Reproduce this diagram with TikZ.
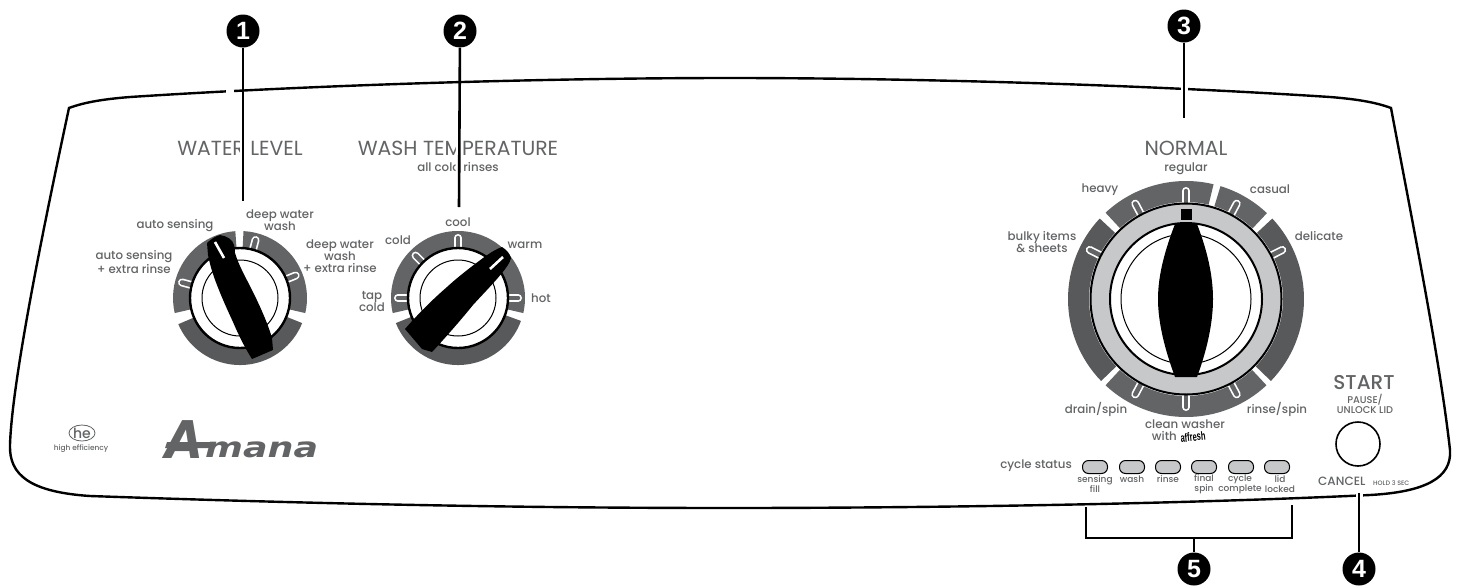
\documentclass[tikz,border=0pt]{standalone}
\usepackage{fontspec}
\setmainfont{Poppins}
\newfontfamily\medfont{Poppins Medium}
\newfontfamily\numfont{Liberation Sans}
\newfontfamily\logofont{DejaVu Sans}
\newfontfamily\narrowfont{Liberation Sans}
\definecolor{bandA}{HTML}{636466}
\definecolor{bandB}{HTML}{58595B}
\definecolor{ringg}{HTML}{C7C8CA}
\definecolor{txt}{HTML}{636466}
\newcommand{\fsz}[2]{\fontsize{#1}{#2}\selectfont}
\tikzset{
  x=1pt,y=-1pt,
  numcirc/.style={circle,fill=black,text=white,minimum size=33pt,inner sep=0pt,font=\numfont\bfseries\fsz{25}{25}},
  leaderline/.style={line width=2.6pt},
  leaderhalo/.style={line width=7pt,white},
  title/.style={text=txt,inner sep=0pt,align=center,font=\fsz{20.4}{20.4}},
  lab/.style={text=txt,inner sep=0pt,align=center,font=\medfont\fsz{11.8}{12}},
  sm/.style={text=txt,inner sep=0pt,align=center,font=\medfont\fsz{9}{10}},
  lamp/.style={draw=black,line width=1pt,fill=ringg,rounded corners=6pt,minimum width=25pt,minimum height=13pt,inner sep=0pt},
  bandtick/.style={line cap=round,line width=8pt,draw=white},
  bandtickin/.style={line cap=round,line width=4.6pt,draw=bandA},
}
% \segm{center x}{center y}{r inner}{r outer}{a1}{a2}{colour}
\newcommand{\segm}[7]{\fill[#7] ({#1+#4*cos(#5)},{#2-#4*sin(#5)}) arc[start angle=-#5,end angle=-#6,radius=#4] -- ({#1+#3*cos(#6)},{#2-#3*sin(#6)}) arc[start angle=-#6,end angle=-#5,radius=#3] -- cycle;}
% \tickm{cx}{cy}{r1}{r2}{angle}
\newcommand{\tickm}[5]{\draw[bandtick] ({#1+#3*cos(#5)},{#2-#3*sin(#5)}) -- ({#1+#4*cos(#5)},{#2-#4*sin(#5)});\draw[bandtickin] ({#1+#3*cos(#5)},{#2-#3*sin(#5)}) -- ({#1+#4*cos(#5)},{#2-#4*sin(#5)});}
\begin{document}
\begin{tikzpicture}
\useasboundingbox (0,0) rectangle (1460,587);
\fill[white] (0,0) rectangle (1460,587);
% titles
\node[title] (twl) at (240,148) {WATER LEVEL};
\node[title] (twt) at (458,148) {WASH TEMPERATURE};
\node[lab] (tacr) at (458,167) {all cold rinses};
\node[title] (tnm) at (1186,148) {NORMAL};
% number circles and first leaders
\node[numcirc] (n1) at (243,31) {1};
\node[numcirc] (n2) at (460,31) {2};
\node[numcirc] (n3) at (1184,26) {3};
\node[numcirc] (n4) at (1359,569) {4};
\node[numcirc] (n5) at (1194,569) {5};
\coordinate (e1) at (243,201);
\coordinate (e2) at (459,207);
\coordinate (e3) at (1184,118);
\coordinate (e4) at (1359,493);
\draw[leaderhalo] (n1) -- (e1);
\draw[leaderhalo] (n2) -- (e2);
% panel
\draw[line width=2.4pt,line join=miter] (69,108) .. controls (85,102) and (105,99) .. (130,97)
  .. controls (330,84) and (560,78) .. (730,78)
  .. controls (900,78) and (1130,84) .. (1330,97)
  .. controls (1355,99) and (1375,102) .. (1391,108)
  .. controls (1412,220) and (1440,360) .. (1450,450)
  .. controls (1452,478) and (1425,492) .. (1370,495)
  .. controls (1160,505) and (900,508) .. (730,508)
  .. controls (520,508) and (320,504) .. (90,496)
  .. controls (30,492) and (9,475) .. (10,445)
  .. controls (12,380) and (45,220) .. (69,108) -- cycle;
\fill[white] (226,87) rectangle (234,95);
\draw[leaderhalo] (n3) -- (e3);
\draw[leaderhalo] (n4) -- (e4);
% dial 1
\segm{240}{298}{50}{67}{94}{193}{bandA}
\segm{240}{298}{50}{67}{-13}{87}{bandA}
\segm{240}{298}{50}{67}{-22}{-157}{bandB}
\tickm{240}{298}{50}{60}{165}
\tickm{240}{298}{50}{60}{75}
\tickm{240}{298}{50}{60}{22}
\draw[line width=2.4pt,fill=white] (240,298) circle[radius=50];
\draw[line width=1pt] (240,298) circle[radius=38];
\fill (207,243) .. controls (211,239) and (216,236) .. (220,235) .. controls (227,236) and (233,240) .. (234,245)
  .. controls (235,248) and (235,251) .. (235,253) .. controls (239,266) and (246,278) .. (252,290)
  .. controls (260,306) and (268,324) .. (272,338) -- (273,350) -- (252,359)
  .. controls (245,348) and (239,336) .. (233,322) .. controls (227,309) and (222,298) .. (217,285)
  .. controls (213,275) and (210,265) .. (208,255) -- cycle;
\draw[white,line width=2.6pt] (215,242) -- (224,258);
% dial 2
\segm{458}{298}{50}{67}{-13}{193}{bandA}
\segm{458}{298}{50}{67}{-20}{-158}{bandB}
\tickm{458}{298}{50}{60}{180}
\tickm{458}{298}{50}{60}{135}
\tickm{458}{298}{50}{60}{90}
\tickm{458}{298}{50}{60}{0}
\draw[line width=2.4pt,fill=white] (458,298) circle[radius=50];
\draw[line width=1pt] (458,298) circle[radius=38];
\fill (502,247) .. controls (507,250) and (510,254) .. (511,258) .. controls (510,263) and (506,268) .. (502,273)
  .. controls (493,284) and (483,294) .. (473,305) .. controls (460,321) and (446,337) .. (432,352)
  -- (422,349) -- (405,329) .. controls (418,314) and (432,300) .. (447,287)
  .. controls (459,276) and (471,267) .. (483,258) .. controls (490,253) and (496,249) .. (502,247) -- cycle;
\draw[white,line width=2.6pt] (490,269) -- (503,257);
% dial 3
\segm{1186}{299}{97}{118}{76.5}{133}{bandA}
\segm{1186}{299}{97}{118}{46.7}{73}{bandA}
\segm{1186}{299}{97}{118}{-44}{43}{bandB}
\segm{1186}{299}{97}{118}{-133}{-47}{bandA}
\segm{1186}{299}{97}{118}{137}{224}{bandB}
\tickm{1186}{299}{95}{108}{90}
\tickm{1186}{299}{95}{108}{118}
\tickm{1186}{299}{95}{108}{62}
\tickm{1186}{299}{95}{108}{27}
\tickm{1186}{299}{95}{108}{153}
\tickm{1186}{299}{95}{108}{-90}
\tickm{1186}{299}{95}{108}{-62}
\tickm{1186}{299}{95}{108}{-118}
\draw[line width=2pt,fill=ringg] (1186,299) circle[radius=95.5];
\draw[line width=2pt,fill=white] (1186,299) circle[radius=76];
\draw[line width=1pt] (1186,299) circle[radius=65];
\fill (1175,224) -- (1197,224) .. controls (1207,250) and (1213,275) .. (1213,299)
  .. controls (1213,323) and (1207,350) .. (1197,377) -- (1175,377)
  .. controls (1165,350) and (1158,323) .. (1158,299) .. controls (1158,275) and (1165,250) .. (1175,224) -- cycle;
\fill (1181,209) rectangle (1192,220);
% dial 1 labels
\node[lab] (a1) at (175,226) {auto sensing};
\node[lab] (a2) at (280,220) {deep water\\wash};
\node[lab] (a3) at (340,256) {deep water\\wash\\+ extra rinse};
\node[lab] (a4) at (134,262) {auto sensing\\+ extra rinse};
% dial 2 labels
\node[lab] (b1) at (458,222) {cool};
\node[lab] (b2) at (398,240) {cold};
\node[lab] (b3) at (525,245) {warm};
\node[lab] (b4) at (541,298) {hot};
\node[lab] (b5) at (372,301) {tap\\cold};
% dial 3 labels
\node[lab] (c1) at (1186,169) {regular};
\node[lab] (c2) at (1100,190) {heavy};
\node[lab] (c3) at (1270,189) {casual};
\node[lab] (c4) at (1319,236) {delicate};
\node[lab] (c5) at (1042,242) {bulky items\\\& sheets};
\node[lab] (c6) at (1096,409) {drain/spin};
\node[lab] (c7) at (1277,409) {rinse/spin};
\node[lab] (c8) at (1185,424) {clean washer};
\node[lab,anchor=east] (c9) at (1177,436) {with};
\node[inner sep=0pt,text=black,rotate=6] (c10) at (1193,437) {\narrowfont\bfseries\fsz{11}{11}\scalebox{0.68}[1.1]{affresh}};
% start
\node[title,font=\medfont\fsz{20}{20}] (st) at (1364,383) {START};
\node[sm,font=\medfont\fsz{9.8}{10}] (pa) at (1365,404) {PAUSE/\\UNLOCK LID};
\node[circle,draw=black,line width=1.6pt,minimum size=44pt,inner sep=0pt] (btn) at (1358,444) {};
\node[lab,anchor=west,font=\medfont\fsz{12}{13}] (ca) at (1318,481) {CANCEL};
\node[sm,anchor=west,font=\medfont\fsz{6.4}{7}] (ho) at (1373,483) {HOLD 3 SEC};
% cycle status
\node[lab,anchor=east] (cs) at (1072,466) {cycle status};
\node[lamp] (l1) at (1095,467) {};
\node[lamp] (l2) at (1132,467) {};
\node[lamp] (l3) at (1168,467) {};
\node[lamp] (l4) at (1204,467) {};
\node[lamp] (l5) at (1241,467) {};
\node[lamp] (l6) at (1277,467) {};
\node[sm] (m1) at (1095,484) {sensing\\fill};
\node[sm] (m2) at (1132,479) {wash};
\node[sm] (m3) at (1168,479) {rinse};
\node[sm] (m4) at (1204,484) {final\\spin};
\node[sm] (m5) at (1240,484) {cycle\\complete};
\node[sm] (m6) at (1280,484) {lid\\locked};
% logos
\draw[txt,line width=.8pt] (82,433) ellipse[x radius=13,y radius=8];
\node[inner sep=0pt,text=txt] (he) at (82,433) {\medfont\fsz{14}{14}he};
\node[sm,font=\medfont\fsz{7.4}{8}] (hef) at (81,449) {high efficiency};
\node[inner sep=0pt,text=txt,anchor=base west] (am) at (165,458) {\logofont\bfseries\itshape\scalebox{.95}[1]{\fsz{52}{52}A}};
\fill[txt] (167,442) -- (212,442) -- (210,448) -- (165,448) -- cycle;
\node[inner sep=0pt,text=txt,anchor=base west] (am2) at (205,457) {\logofont\bfseries\itshape\scalebox{1.3}[1]{\fsz{28}{28}mana}};
% leaders
\coordinate (b1l) at (1086,507);
\coordinate (b1r) at (1292,505);
\coordinate (bs) at (1194,538);
\draw[leaderline] (n1) -- (e1);
\draw[leaderline] (n2) -- (e2);
\draw[leaderline] (n3) -- (e3);
\draw[leaderline] (n4) -- (e4);
\draw[line width=2.4pt] (b1l) |- (bs) -| (b1r);
\draw[line width=2.4pt] (bs) -- (n5);
\end{tikzpicture}
\end{document}
